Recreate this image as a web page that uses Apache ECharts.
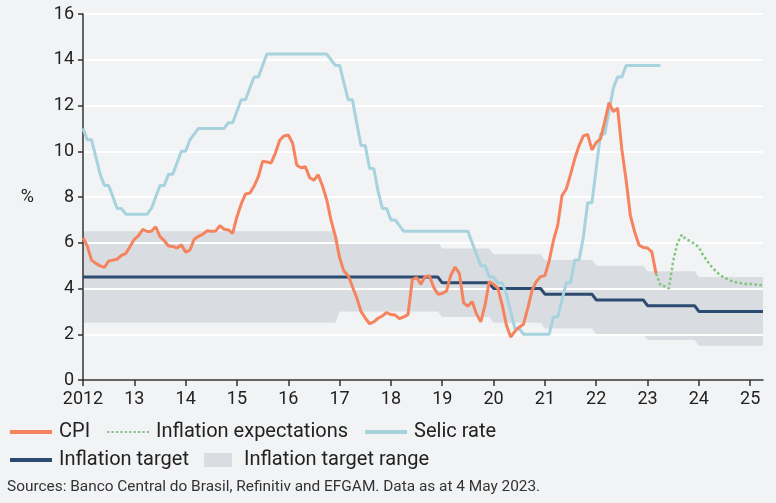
<!DOCTYPE html>
<html>
<head>
<meta charset="utf-8">
<script src="https://cdn.jsdelivr.net/npm/echarts@6/dist/echarts.min.js"></script>
<style>
html,body{margin:0;padding:0;background:#f2f3f5;}
#chart{width:776px;height:503px;}
</style>
</head>
<body>
<div id="chart"></div>
<script>
// ---- data (monthly, first value = Jan 2012) ----
const startYear = 2012;
const cpi = [
  6.22, 5.85, 5.24, 5.10, 4.99, 4.92, 5.20, 5.24, 5.28, 5.45, 5.53, 5.84,
  6.15, 6.31, 6.59, 6.49, 6.50, 6.70, 6.27, 6.09, 5.86, 5.84, 5.77, 5.91,
  5.59, 5.68, 6.15, 6.28, 6.37, 6.52, 6.50, 6.51, 6.75, 6.59, 6.56, 6.41,
  7.14, 7.70, 8.13, 8.17, 8.47, 8.89, 9.56, 9.53, 9.49, 9.93, 10.48, 10.67,
  10.71, 10.36, 9.39, 9.28, 9.32, 8.84, 8.74, 8.97, 8.48, 7.87, 6.99, 6.29,
  5.35, 4.76, 4.57, 4.08, 3.60, 3.00, 2.71, 2.46, 2.54, 2.70, 2.80, 2.95,
  2.86, 2.84, 2.68, 2.76, 2.86, 4.39, 4.48, 4.19, 4.53, 4.56, 4.05, 3.75,
  3.78, 3.89, 4.58, 4.94, 4.66, 3.37, 3.22, 3.43, 2.89, 2.54, 3.27, 4.31,
  4.19, 4.01, 3.30, 2.40, 1.88, 2.13, 2.31, 2.44, 3.14, 3.92, 4.31, 4.52,
  4.56, 5.20, 6.10, 6.76, 8.06, 8.35, 8.99, 9.68, 10.25, 10.67, 10.74, 10.06,
  10.38, 10.54, 11.30, 12.13, 11.73, 11.89, 10.07, 8.73, 7.17, 6.47, 5.90, 5.79,
  5.77, 5.60, 4.65
];
const selic = [
  11.0, 10.5, 10.5, 9.75, 9.0, 8.5, 8.5, 8.0, 7.5, 7.5, 7.25, 7.25,
  7.25, 7.25, 7.25, 7.25, 7.5, 8.0, 8.5, 8.5, 9.0, 9.0, 9.5, 10.0,
  10.0, 10.5, 10.75, 11.0, 11.0, 11.0, 11.0, 11.0, 11.0, 11.0, 11.25, 11.25,
  11.75, 12.25, 12.25, 12.75, 13.25, 13.25, 13.75, 14.25, 14.25, 14.25, 14.25, 14.25,
  14.25, 14.25, 14.25, 14.25, 14.25, 14.25, 14.25, 14.25, 14.25, 14.25, 14.0, 13.75,
  13.75, 13.0, 12.25, 12.25, 11.25, 10.25, 10.25, 9.25, 9.25, 8.25, 7.5, 7.5,
  7.0, 7.0, 6.75, 6.5, 6.5, 6.5, 6.5, 6.5, 6.5, 6.5, 6.5, 6.5,
  6.5, 6.5, 6.5, 6.5, 6.5, 6.5, 6.5, 6.0, 5.5, 5.0, 5.0, 4.5,
  4.5, 4.25, 4.25, 3.75, 3.0, 2.25, 2.25, 2.0, 2.0, 2.0, 2.0, 2.0,
  2.0, 2.0, 2.75, 2.75, 3.5, 4.25, 4.25, 5.25, 5.25, 6.25, 7.75, 7.75,
  9.25, 10.75, 10.75, 11.75, 12.75, 13.25, 13.25, 13.75, 13.75, 13.75, 13.75, 13.75,
  13.75, 13.75, 13.75, 13.75
];
// inflation expectations, monthly from Mar 2023
const expStartIndex = 134;
const expectations = [
  4.65, 4.15, 4.10, 4.00, 5.20, 6.00, 6.35, 6.15, 6.07, 5.95, 5.80, 5.45,
  5.20, 4.95, 4.75, 4.58, 4.47, 4.38, 4.30, 4.26, 4.23, 4.20, 4.20, 4.18,
  4.15, 4.15
];
// inflation target and tolerance band, by calendar year
const targetYears = [2012, 2013, 2014, 2015, 2016, 2017, 2018, 2019, 2020, 2021, 2022, 2023, 2024, 2025];
const targetMid   = [4.5, 4.5, 4.5, 4.5, 4.5, 4.5, 4.5, 4.25, 4.0, 3.75, 3.5, 3.25, 3.0, 3.0];
const targetUpper = [6.5, 6.5, 6.5, 6.5, 6.5, 6.0, 6.0, 5.75, 5.5, 5.25, 5.0, 4.75, 4.5, 4.5];
const targetLower = [2.5, 2.5, 2.5, 2.5, 2.5, 3.0, 3.0, 2.75, 2.5, 2.25, 2.0, 1.75, 1.5, 1.5];
const targetMonths = 160; // Jan 2012 .. Apr 2025
const xTickValues = [2012, 2013, 2014, 2015, 2016, 2017, 2018, 2019, 2020, 2021, 2022, 2023, 2024, 2025];

// ---- build series data ----
const tOf = i => startYear + i / 12;
const cpiData = cpi.map((v, i) => [tOf(i), v]);
const selicData = selic.map((v, i) => [tOf(i), v]);
const expData = expectations.map((v, k) => [tOf(expStartIndex + k), v]);
const midData = [], lowData = [], upData = [];
for (let i = 0; i < targetMonths; i++) {
  const y = startYear + Math.floor(i / 12);
  const k = targetYears.indexOf(y);
  midData.push([tOf(i), targetMid[k]]);
  lowData.push([tOf(i), targetLower[k]]);
  upData.push([tOf(i), targetUpper[k]]);
}

const FONT = "Roboto, 'Noto Sans', sans-serif";
const C = {
  bg: '#f2f3f5', cpi: '#f5845e', exp: '#7fc57b', selic: '#a6d3de',
  target: '#2d4a70', band: '#d9dde1', axis: '#333333', text: '#222222'
};

// dotted legend icon
let dots = '';
for (let k = 0; k < 10; k++) dots += 'M' + (k * 5) + ',0h2.5v2.5h-2.5z';
const dotIcon = 'path://' + dots;

const legendText = {fontSize: 20, color: C.text, fontFamily: FONT, padding: [0, 0, 0, 2]};

const chart = echarts.init(document.getElementById('chart'), null, {renderer: 'canvas'});
chart.setOption({
  backgroundColor: C.bg,
  animation: false,
  textStyle: {fontFamily: FONT},
  grid: {left: 83, right: 13, top: 14, bottom: 123, containLabel: false},
  xAxis: {
    type: 'value', min: 2012, max: 2025.25, interval: 1, z: 2,
    axisLine: {show: true, lineStyle: {color: C.axis, width: 1.5}},
    axisTick: {show: true, length: 6, customValues: xTickValues, lineStyle: {color: C.axis, width: 1.5}},
    axisLabel: {
      customValues: xTickValues, margin: 10, fontSize: 18, color: C.text, fontFamily: FONT,
      formatter: v => (v === 2012 ? '2012' : String(v - 2000))
    },
    splitLine: {show: false}
  },
  yAxis: {
    type: 'value', min: 0, max: 16, interval: 2, z: 2,
    name: '%', nameLocation: 'middle', nameRotate: 0, nameGap: 49,
    nameTextStyle: {fontSize: 18, color: C.text, fontFamily: FONT},
    axisLine: {show: true, lineStyle: {color: C.axis, width: 1.5}},
    axisTick: {show: true, length: 5, lineStyle: {color: C.axis, width: 1.5}},
    axisLabel: {margin: 9, fontSize: 18, color: C.text, fontFamily: FONT},
    splitLine: {show: true, lineStyle: {color: '#ffffff', width: 2}}
  },
  legend: [
    {
      data: [
        {name: 'CPI', icon: 'rect', itemStyle: {color: C.cpi}},
        {name: 'Inflation expectations', icon: dotIcon, itemStyle: {color: C.exp}},
        {name: 'Selic rate', icon: 'rect', itemStyle: {color: C.selic}}
      ],
      left: 10, top: 422, padding: 0, itemWidth: 42, itemHeight: 4, itemGap: 17,
      selectedMode: false, textStyle: legendText
    },
    {
      data: [{name: 'Inflation target', icon: 'rect', itemStyle: {color: C.target}}],
      left: 10, top: 450, padding: 0, itemWidth: 42, itemHeight: 4, itemGap: 16,
      selectedMode: false, textStyle: legendText
    },
    {
      data: [{name: 'Inflation target range', icon: 'rect', itemStyle: {color: C.band}}],
      left: 204, top: 450, padding: 0, itemWidth: 28, itemHeight: 14, itemGap: 16,
      selectedMode: false,
      textStyle: {fontSize: 20, color: C.text, fontFamily: FONT, padding: [0, 0, 0, 7]}
    }
  ],
  graphic: [{
    type: 'text', left: 7, top: 480,
    style: {text: 'Sources: Banco Central do Brasil, Refinitiv and EFGAM. Data as at 4 May 2023.',
      font: '15.4px ' + FONT, fill: '#333333'}
  }],
  series: [
    {
      name: 'Inflation target range', type: 'line', data: upData, z: 0,
      symbol: 'none', lineStyle: {width: 0, opacity: 0}, itemStyle: {color: C.band},
      areaStyle: {color: C.band, opacity: 1, origin: 'start'}, silent: true
    },
    {
      name: 'band-lower', type: 'line', data: lowData, z: 1,
      symbol: 'none', lineStyle: {width: 0, opacity: 0}, itemStyle: {color: C.bg},
      areaStyle: {color: C.bg, opacity: 1, origin: 'start'}, silent: true
    },
    {
      name: 'Inflation target', type: 'line', data: midData, z: 3,
      symbol: 'none', itemStyle: {color: C.target}, lineStyle: {color: C.target, width: 3}
    },
    {
      name: 'Selic rate', type: 'line', data: selicData, z: 4,
      symbol: 'none', itemStyle: {color: C.selic}, lineStyle: {color: C.selic, width: 3}
    },
    {
      name: 'CPI', type: 'line', data: cpiData, z: 5,
      symbol: 'none', itemStyle: {color: C.cpi}, lineStyle: {color: C.cpi, width: 3}
    },
    {
      name: 'Inflation expectations', type: 'line', data: expData, z: 5,
      symbol: 'none', itemStyle: {color: C.exp},
      lineStyle: {color: C.exp, width: 2.5, type: [2.5, 2.5]}
    }
  ]
});
</script>
</body>
</html>
